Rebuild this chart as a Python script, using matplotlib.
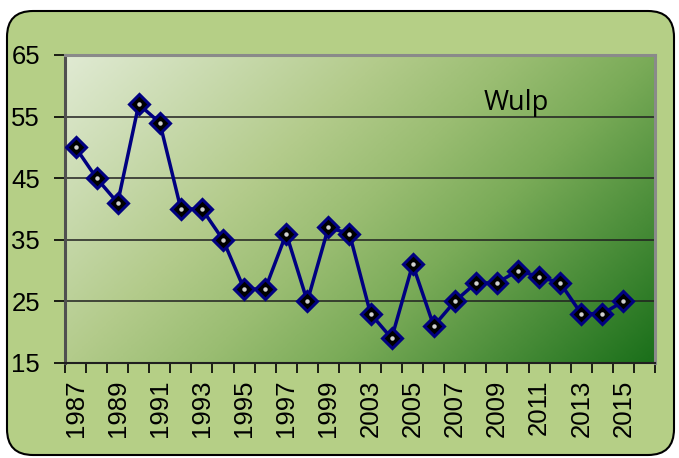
import numpy as np
import matplotlib
matplotlib.use("Agg")
import matplotlib.pyplot as plt
from matplotlib import font_manager as fm
from matplotlib.patches import FancyBboxPatch
from matplotlib.colors import LinearSegmentedColormap
from matplotlib.transforms import IdentityTransform

# ---- data ----
years = ["1987", "1988", "1989", "1990", "1991", "1992", "1993", "1994", "1995",
         "1996", "1997", "1998", "1999", "2001", "2003", "2004", "2005", "2006",
         "2007", "2008", "2009", "2010", "2011", "2012", "2013", "2014", "2015", "2016"]
counts = [50, 45, 41, 57, 54, 40, 40, 35, 27, 27, 36, 25, 37, 36, 23, 19, 31, 21,
          25, 28, 28, 30, 29, 28, 23, 23, 25, None]
yticks = [15, 25, 35, 45, 55, 65]
title_text = "Wulp"

# pick the regular-width Liberation Sans (not Narrow)
lib_path = None
for f in fm.fontManager.ttflist:
    fn = f.fname.lower()
    if f.name == "Liberation Sans" and "narrow" not in fn and f.style == "normal" \
            and f.weight in (400, "normal", "regular"):
        lib_path = f.fname
        break
if lib_path:
    tick_fp = fm.FontProperties(fname=lib_path, size=18.5)
else:
    tick_fp = fm.FontProperties(family="DejaVu Sans", size=17)

W, H = 679, 458
fig = plt.figure(figsize=(W / 100, H / 100), dpi=100)
fig.patch.set_facecolor("white")

panel = FancyBboxPatch((7, 3), 667, 444, boxstyle="round,pad=0,rounding_size=26",
                       transform=IdentityTransform(), facecolor="#b5cf86",
                       edgecolor="black", linewidth=1.5, zorder=-10)
fig.patches.append(panel)

ax = fig.add_axes([65 / W, (H - 363) / H, 590 / W, 308 / H])
ax.set_zorder(5)
ax.set_facecolor("none")

x = np.arange(len(years))
y = np.array([np.nan if v is None else v for v in counts], dtype=float)
ax.set_xlim(-0.5, len(years) - 0.5)
ax.set_ylim(15, 65)

cmap = LinearSegmentedColormap.from_list(
    "g", [(0.0, "#e0ead3"), (0.35, "#b3cb8b"), (0.5, "#9abd72"), (0.65, "#7aab58"),
          (1.0, "#1a6f1a")])
gx = np.linspace(0, 1, 300)[None, :]
gy = np.linspace(0, 1, 200)[:, None]
grad = (gx * 0.65 + gy * 0.35)
ax.imshow(grad, cmap=cmap, extent=[-0.5, len(years) - 0.5, 15, 65], origin="upper",
          aspect="auto", zorder=0, interpolation="bilinear")

for v in yticks[1:-1]:
    ax.axhline(v, color="#202020", lw=1.1, zorder=1)

ax.plot(x, y, color="#000080", lw=2.5, zorder=3)
ax.plot(x, y, linestyle="none", marker="D", markersize=10, markerfacecolor="black",
        markeredgecolor="#000080", markeredgewidth=2.2, zorder=4)
ax.plot(x, y, linestyle="none", marker="o", markersize=2.2, color="#d0d0d0", zorder=5)

ax.set_yticks(yticks)
ax.set_yticklabels([str(t) for t in yticks])
ax.set_xticks(x[::2])
ax.set_xticklabels(years[::2], rotation=90)
ax.set_xticks(np.arange(-0.5, len(years), 1), minor=True)
ax.tick_params(axis="x", which="major", length=0, pad=12, labelcolor="black")
ax.tick_params(axis="x", which="minor", length=7, width=1.2, color="black")
ax.tick_params(axis="y", which="major", length=8, width=1.2, color="black", pad=10,
               labelcolor="black")
for lab in ax.get_xticklabels() + ax.get_yticklabels():
    lab.set_fontproperties(tick_fp)

for s in ["top", "right"]:
    ax.spines[s].set_color("#8a8a8a")
    ax.spines[s].set_linewidth(2.2)
ax.spines["left"].set_color("#505050")
ax.spines["left"].set_linewidth(2.2)
ax.spines["bottom"].set_color("#202020")
ax.spines["bottom"].set_linewidth(1.5)

ax.text(0.764, 0.821, title_text, transform=ax.transAxes, ha="center", va="baseline",
        fontsize=19.5, family="Open Sans", color="black", zorder=6)

fig.savefig("out.png", dpi=100)
